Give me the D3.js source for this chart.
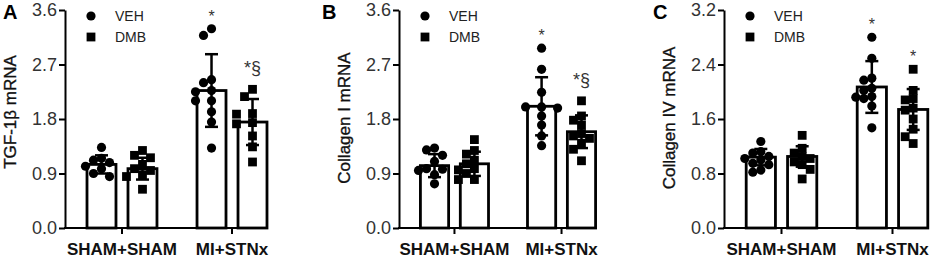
<!DOCTYPE html>
<html>
<head>
<meta charset="utf-8">
<script src="https://cdn.jsdelivr.net/npm/d3@7"></script>
<style>
  html, body { margin: 0; padding: 0; background: #fff; }
  svg { display: block; font-family: "Liberation Sans", Arial, Helvetica, sans-serif; }
</style>
</head>
<body>
<svg id="chart" width="948" height="260"></svg>
<script>
// ---------------- data ----------------
const groups = ["SHAM+SHAM", "MI+STNx"];
const treatments = ["VEH", "DMB"];
const panelLetters = ["A", "B", "C"];
const yTitles = ["TGF-1β mRNA", "Collagen I mRNA", "Collagen IV mRNA"];
const yMaxes = [3.6, 3.6, 3.2];
const yTicksA = [0.0, 0.9, 1.8, 2.7, 3.6];
const yTicksB = [0.0, 0.9, 1.8, 2.7, 3.6];
const yTicksC = [0.0, 0.8, 1.6, 2.4, 3.2];

// order: SHAM+SHAM VEH, SHAM+SHAM DMB, MI+STNx VEH, MI+STNx DMB
const meansA = [1.05, 0.98, 2.27, 1.75];
const sdsA   = [0.15, 0.18, 0.60, 0.38];
const pointsA = [
  [1.33, 1.15, 1.12, 1.08, 1.02, 0.98, 0.90, 0.85],
  [1.28, 1.20, 1.16, 1.05, 0.98, 0.95, 0.88, 0.85, 0.64],
  [3.29, 3.18, 2.45, 2.40, 2.27, 2.25, 2.10, 2.10, 1.92, 1.75, 1.32],
  [2.29, 2.17, 1.89, 1.88, 1.74, 1.72, 1.52, 1.34, 1.09]
];
const marksA = ["", "", "*", "*§"];

const meansB = [1.03, 1.06, 2.01, 1.59];
const sdsB   = [0.19, 0.20, 0.48, 0.27];
const pointsB = [
  [1.32, 1.29, 1.20, 1.10, 0.98, 0.97, 0.95, 0.88, 0.73],
  [1.46, 1.28, 1.22, 1.12, 1.06, 0.98, 0.96, 0.90, 0.80, 0.80],
  [2.97, 2.62, 2.24, 2.00, 1.98, 2.00, 1.85, 1.70, 1.52, 1.36],
  [2.10, 1.85, 1.78, 1.70, 1.56, 1.52, 1.48, 1.40, 1.30, 1.11]
];
const marksB = ["", "", "*", "*§"];

const meansC = [1.04, 1.05, 2.07, 1.74];
const sdsC   = [0.12, 0.15, 0.38, 0.30];
const pointsC = [
  [1.27, 1.12, 1.10, 1.05, 1.02, 1.00, 0.95, 0.93, 0.85, 0.82],
  [1.36, 1.17, 1.10, 1.05, 1.02, 0.97, 0.93, 0.86, 0.72],
  [2.80, 2.49, 2.20, 2.17, 2.05, 2.02, 1.93, 1.92, 1.90, 1.79, 1.47],
  [2.33, 2.02, 1.90, 1.88, 1.76, 1.73, 1.60, 1.45, 1.34, 1.24]
];
const marksC = ["", "", "*", "*"];

// ---------------- layout ----------------
const axisX = [65, 399, 724];
const plotW = [224, 218, 226];
const yTop = 10, yBottom = 228;

const yTicksAll = [yTicksA, yTicksB, yTicksC];
const meansAll = [meansA, meansB, meansC];
const sdsAll = [sdsA, sdsB, sdsC];
const pointsAll = [pointsA, pointsB, pointsC];
const marksAll = [marksA, marksB, marksC];

const svg = d3.select("#chart");
const fmt = d3.format(".1f");
const circleSym = d3.symbol().type(d3.symbolCircle).size(Math.PI * 4.6 * 4.6);
const squareSym = d3.symbol().type(d3.symbolSquare).size(8.8 * 8.8);

function swarm(values, cx, y, r, step) {
  const placed = [];
  const order = values.map(v => v).sort((a, b) => b - a);
  order.forEach(v => {
    const py = y(v);
    const ks = [0, -1, 1, -2, 2, -3, 3];
    for (const k of ks) {
      const px = cx + k * step;
      if (placed.every(p => Math.hypot(p.x - px, p.y - py) >= 2 * r * 0.9)) {
        placed.push({ x: px, y: py, v });
        return;
      }
    }
    placed.push({ x: cx, y: py, v });
  });
  return placed;
}

panelLetters.forEach((letter, pi) => {
  const x0 = axisX[pi];
  const g = svg.append("g");

  const y = d3.scaleLinear().domain([0, yMaxes[pi]]).range([yBottom, yTop]);
  const xOuter = d3.scaleBand().domain(groups).range([x0, x0 + plotW[pi]])
    .paddingInner(0.364).paddingOuter(0.2);
  const xInner = d3.scaleBand().domain(treatments).range([0, xOuter.bandwidth()])
    .paddingInner(0.293).paddingOuter(0);

  const cells = [];
  groups.forEach((grp, gi) => {
    treatments.forEach((tr, ti) => {
      const idx = gi * 2 + ti;
      cells.push({
        grp, tr, idx,
        mean: meansAll[pi][idx], sd: sdsAll[pi][idx],
        pts: pointsAll[pi][idx], mark: marksAll[pi][idx],
        x: xOuter(grp) + xInner(tr), w: xInner.bandwidth()
      });
    });
  });

  g.selectAll("rect.bar").data(cells).join("rect")
    .attr("class", "bar")
    .attr("x", d => d.x)
    .attr("y", d => y(d.mean))
    .attr("width", d => d.w)
    .attr("height", d => yBottom - y(d.mean))
    .attr("fill", "#fff")
    .attr("stroke", "#000")
    .attr("stroke-width", 2.8);

  const capW = 13;
  const eb = g.selectAll("g.err").data(cells).join("g").attr("class", "err")
    .attr("stroke", "#000").attr("stroke-width", 2.5);
  eb.append("line")
    .attr("x1", d => d.x + d.w / 2).attr("x2", d => d.x + d.w / 2)
    .attr("y1", d => y(d.mean + d.sd)).attr("y2", d => y(d.mean - d.sd));
  eb.append("line")
    .attr("x1", d => d.x + d.w / 2 - capW / 2).attr("x2", d => d.x + d.w / 2 + capW / 2)
    .attr("y1", d => y(d.mean + d.sd)).attr("y2", d => y(d.mean + d.sd));
  eb.append("line")
    .attr("x1", d => d.x + d.w / 2 - capW / 2).attr("x2", d => d.x + d.w / 2 + capW / 2)
    .attr("y1", d => y(d.mean - d.sd)).attr("y2", d => y(d.mean - d.sd));

  cells.forEach(c => {
    const placed = swarm(c.pts, c.x + c.w / 2, y, 4.5, 8);
    g.append("g").selectAll("path").data(placed).join("path")
      .attr("d", c.tr === "VEH" ? circleSym : squareSym)
      .attr("transform", p => `translate(${p.x},${p.y})`)
      .attr("fill", "#000");
    if (c.mark) {
      const maxY = y(d3.max(c.pts));
      g.append("text")
        .attr("x", c.x + c.w / 2)
        .attr("y", maxY - (c.mark.includes("§") ? 15 : 7))
        .attr("text-anchor", "middle")
        .attr("font-size", c.mark.includes("§") ? 18 : 16)
        .attr("fill", "#333")
        .text(c.mark);
    }
  });

  // y axis
  const yAxis = d3.axisLeft(y).tickValues(yTicksAll[pi]).tickFormat(fmt)
    .tickSize(6).tickSizeOuter(0).tickPadding(2);
  const ya = g.append("g").attr("transform", `translate(${x0},0)`).call(yAxis);
  ya.select(".domain").attr("stroke", "#000").attr("stroke-width", 2);
  ya.selectAll(".tick line").attr("stroke", "#000").attr("stroke-width", 2);
  ya.selectAll(".tick text").attr("font-size", 18).attr("fill", "#333")
    .attr("font-family", "'Liberation Sans', Arial, sans-serif");

  // x axis
  const lastEnd = xOuter(groups[1]) + xOuter.bandwidth();
  const xa = g.append("g").attr("transform", `translate(0,${yBottom})`);
  xa.append("line").attr("x1", x0 - 1).attr("x2", lastEnd + 1)
    .attr("y1", 0).attr("y2", 0).attr("stroke", "#000").attr("stroke-width", 2);
  xa.selectAll("line.tk").data(groups).join("line").attr("class", "tk")
    .attr("x1", d => xOuter(d) + xOuter.bandwidth() / 2)
    .attr("x2", d => xOuter(d) + xOuter.bandwidth() / 2)
    .attr("y1", 0).attr("y2", 6).attr("stroke", "#000").attr("stroke-width", 2);
  xa.selectAll("text").data(groups).join("text")
    .attr("x", d => xOuter(d) + xOuter.bandwidth() / 2)
    .attr("y", 27)
    .attr("text-anchor", "middle")
    .attr("font-size", 17).attr("font-weight", "bold").attr("fill", "#111")
    .text(d => d);

  // y title
  g.append("text")
    .attr("transform", `translate(${x0 - 49},${pi === 0 ? 112 : 118}) rotate(-90)`)
    .attr("text-anchor", "middle")
    .attr("font-size", 17).attr("fill", "#111")
    .attr("stroke", "#111").attr("stroke-width", 0.35)
    .text(yTitles[pi]);

  // panel letter
  g.append("text")
    .attr("x", x0 - (pi === 0 ? 62 : pi === 1 ? 77 : 71)).attr("y", 19)
    .attr("font-size", 20).attr("font-weight", "bold").attr("fill", "#000")
    .text(letter);

  // legend
  const lg = g.append("g");
  treatments.forEach((tr, ti) => {
    const ly = 16 + ti * 21;
    lg.append("path")
      .attr("d", ti === 0 ? circleSym : squareSym)
      .attr("transform", `translate(${x0 + 26},${ly})`)
      .attr("fill", "#000");
    lg.append("text")
      .attr("x", x0 + 50).attr("y", ly).attr("dy", "0.36em")
      .attr("font-size", 14).attr("fill", "#222")
      .text(tr);
  });
});
</script>
</body>
</html>
